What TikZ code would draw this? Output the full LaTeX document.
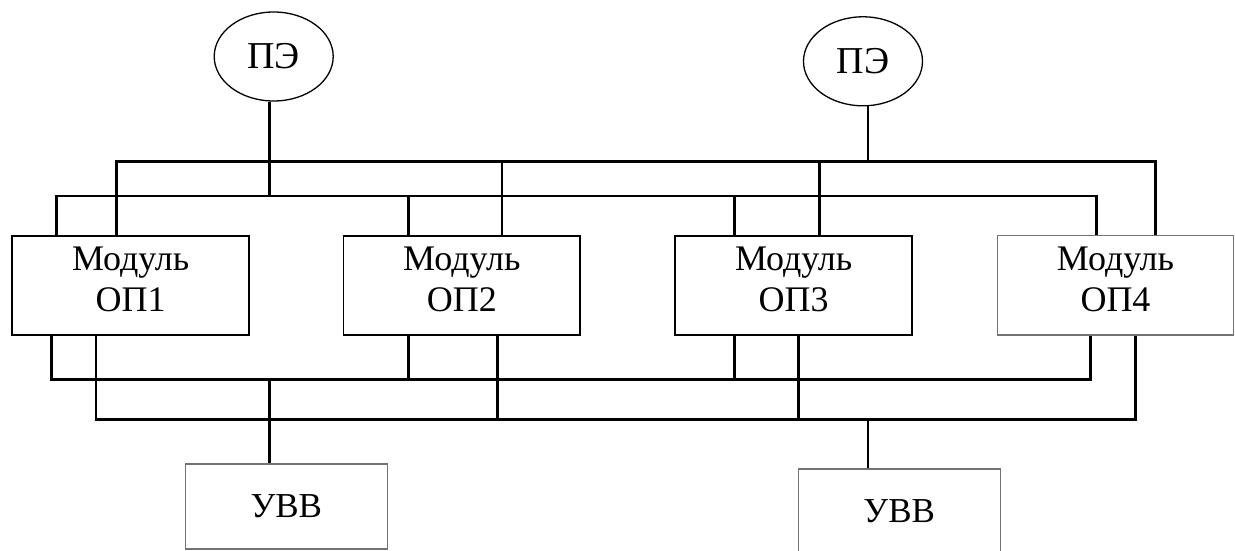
\documentclass[tikz,border=0pt]{standalone}
\usepackage{fontspec}
\setmainfont{Liberation Serif}
\usetikzlibrary{shapes.geometric}
\newcommand{\lowpad}{\rule[-12pt]{0pt}{12pt}}
\begin{document}
\begin{tikzpicture}[x=1pt,y=-1pt,
  pe/.style={font=\fontsize{38}{44}\selectfont,draw,ellipse,line width=1.3pt,minimum width=119pt,minimum height=89pt,inner sep=0pt},
  mod/.style={font=\fontsize{36}{41}\selectfont,draw,line width=1.7pt,minimum width=236.7pt,minimum height=99.3pt,inner sep=0pt,align=center},
  uvv/.style={font=\fontsize{35}{41}\selectfont,draw=black!55,line width=1.2pt,minimum width=202pt,minimum height=85pt,inner sep=0pt},
  bus/.style={line width=2.6pt,line join=miter}]
\useasboundingbox (0,0) rectangle (1235,551);
\clip (0,0) rectangle (1235,551);
% nodes
\node[pe] (pe1) at (273.7,56.5) {ПЭ};
\node[pe] (pe2) at (863,61.3) {ПЭ};
\node[mod] (m1) at (130.65,285.35) {Модуль\\ОП1\lowpad};
\node[mod] (m2) at (461.8,285.35) {Модуль\\ОП2\lowpad};
\node[mod] (m3) at (793.65,285.35) {Модуль\\ОП3\lowpad};
\node[mod,draw=black!55,line width=1.2pt] (m4) at (1115.5,285.35) {Модуль\\ОП4\lowpad};
\node[uvv] (u1) at (286.35,506.5) {УВВ};
\node[uvv] (u2) at (899.2,511.5) {УВВ};
% bus A
\coordinate (a1) at (116.7,161.7);
\coordinate (a3) at (502,161.7);
\coordinate (a4) at (819.3,161.7);
\coordinate (a5) at (868,161.7);
\coordinate (a6) at (1155.3,161.7);
% bus B
\coordinate (b1) at (56.7,196);
\coordinate (b2) at (269.3,196);
\coordinate (b3) at (408.3,196);
\coordinate (b4) at (734.3,196);
\coordinate (b5) at (1096.3,196);
% bus C
\coordinate (c1) at (51.7,379.3);
\coordinate (c2) at (269.3,379.3);
\coordinate (c3) at (408.3,379.3);
\coordinate (c4) at (734.3,379.3);
\coordinate (c5) at (1090.7,379.3);
% bus D
\coordinate (d1) at (96,419.3);
\coordinate (d2) at (497.7,419.3);
\coordinate (d3) at (798.7,419.3);
\coordinate (d4) at (868,419.3);
\coordinate (d5) at (1135.3,419.3);
% top buses
\draw[bus] (m1.north -| a1) -- (a1) -- (a6) -- (m4.north -| a6);
\draw[bus] (m2.north -| a3) -- (a3);
\draw[bus] (m3.north -| a4) -- (a4);
\draw[bus] (pe2.south -| a5) -- (a5);
\draw[bus] (m1.north -| b1) -- (b1) -- (b5) -- (m4.north -| b5);
\draw[bus] (pe1.south -| b2) -- (b2);
\draw[bus] (m2.north -| b3) -- (b3);
\draw[bus] (m3.north -| b4) -- (b4);
% bottom buses
\draw[bus] (m1.south -| c1) -- (c1) -- (c5) -- (m4.south -| c5);
\draw[bus] (m2.south -| c3) -- (c3);
\draw[bus] (m3.south -| c4) -- (c4);
\draw[bus] (c2) -- (u1.north -| c2);
\draw[bus] (m1.south -| d1) -- (d1) -- (d5) -- (m4.south -| d5);
\draw[bus] (m2.south -| d2) -- (d2);
\draw[bus] (m3.south -| d3) -- (d3);
\draw[bus] (d4) -- (u2.north -| d4);
\end{tikzpicture}
\end{document}
